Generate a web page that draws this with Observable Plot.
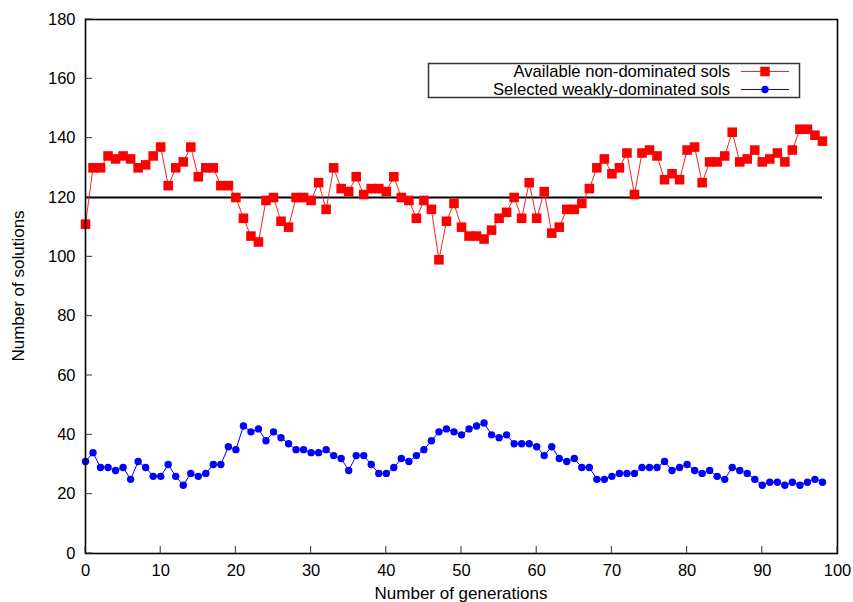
<!DOCTYPE html>
<html><head><meta charset="utf-8">
<script src="https://cdn.jsdelivr.net/npm/d3@7"></script>
<script src="https://cdn.jsdelivr.net/npm/@observablehq/plot@0.6"></script>
<style>
body{margin:0;background:#fff;}
#chart{width:853px;height:602px;overflow:hidden;}
</style>
</head><body><div id="chart"></div>
<script>
// Data
const availableNonDominated = [111,130,130,134,133,134,133,130,131,134,137,124,130,132,137,127,130,130,124,124,
  120,113,107,105,119,120,112,110,120,120,119,125,116,130,123,122,127,121,123,123,
  122,127,120,119,113,119,116,99,112,118,110,107,107,106,109,113,115,120,113,125,
  113,122,108,110,116,116,118,123,130,133,128,130,135,121,135,136,134,126,128,126,
  136,137,125,132,132,134,142,132,133,136,132,133,135,132,136,143,143,141,139];
const selectedWeaklyDominated = [31,34,29,29,28,29,25,31,29,26,26,30,26,23,27,26,27,30,30,36,
  35,43,41,42,38,41,39,37,35,35,34,34,35,33,32,28,33,33,30,27,
  27,29,32,31,33,35,38,41,42,41,40,42,43,44,40,39,40,37,37,37,
  36,33,36,32,31,32,29,29,25,25,26,27,27,27,29,29,29,31,28,29,
  30,28,27,28,26,25,29,28,27,25,23,24,24,23,24,23,24,25,24];
const referenceLevel = [120];
const xTicks = [0,10,20,30,40,50,60,70,80,90,100];
const yTicks = [0,20,40,60,80,100,120,140,160,180];
const seriesNames = ["Available non-dominated sols", "Selected weakly-dominated sols"];

const redData = availableNonDominated.map((v, i) => ({gen: i, value: v}));
const blueData = selectedWeaklyDominated.map((v, i) => ({gen: i, value: v}));
const lastGen = redData[redData.length - 1].gen;
const FONT = "'Liberation Sans', Arial, Helvetica, sans-serif";

const plot = Plot.plot({
  width: 853,
  height: 602,
  marginLeft: 85,
  marginRight: 16,
  marginTop: 19,
  marginBottom: 49,
  style: {fontFamily: FONT, fontSize: "16.5px", background: "#fff", color: "#000"},
  x: {domain: [0, 100]},
  y: {domain: [0, 180]},
  marks: [
    Plot.axisX({ticks: xTicks, tickSize: 0, tickPadding: 11, label: null}),
    Plot.axisY({ticks: yTicks, tickSize: 0, tickPadding: 10, label: null}),
    Plot.ruleY(referenceLevel, {y: d => d, x1: 0, x2: lastGen, stroke: "#000", strokeWidth: 1.8}),
    Plot.line(redData, {x: "gen", y: "value", stroke: "#ff2020", strokeWidth: 1}),
    Plot.dot(redData, {x: "gen", y: "value", symbol: "square", r: 5.4, fill: "#ff0000", stroke: "none"}),
    Plot.line(blueData, {x: "gen", y: "value", stroke: "#0000ff", strokeWidth: 1}),
    Plot.dot(blueData, {x: "gen", y: "value", r: 3.7, fill: "#0000ff", stroke: "none"}),
    Plot.frame({stroke: "#000", strokeWidth: 1.6})
  ]
});

document.getElementById("chart").appendChild(plot);

const svg = d3.select(plot);
const sx = plot.scale("x"), sy = plot.scale("y");
const [x0] = sx.range, yb = sy.range[0];

// inward ticks (gnuplot style), positioned through Plot's scales
const tg = svg.append("g").attr("stroke", "#333").attr("stroke-width", 1);
xTicks.forEach(t => { const px = sx.apply(t); tg.append("line").attr("x1", px).attr("x2", px).attr("y1", yb).attr("y2", yb - 7); });
yTicks.forEach(t => { const py = sy.apply(t); tg.append("line").attr("x1", x0).attr("x2", x0 + 7).attr("y1", py).attr("y2", py); });

// axis titles
const xMid = (sx.range[0] + sx.range[1]) / 2, yMid = (sy.range[0] + sy.range[1]) / 2;
svg.append("text").attr("x", xMid).attr("y", 599).attr("text-anchor", "middle")
  .attr("font-family", FONT).attr("font-size", 17).attr("fill", "#000").text("Number of generations");
svg.append("text").attr("transform", `translate(23.5,${yMid}) rotate(-90)`).attr("text-anchor", "middle")
  .attr("font-family", FONT).attr("font-size", 17).attr("fill", "#000").text("Number of solutions");

// Legend inside the plot (gnuplot style box)
const lg = svg.append("g").attr("font-family", FONT).attr("font-size", 16.6);
lg.append("rect").attr("x", 428.5).attr("y", 63.5).attr("width", 371).attr("height", 34)
  .attr("fill", "#fff").attr("stroke", "#333").attr("stroke-width", 1.5);
const rows = [
  {name: seriesNames[0], color: "#ff2020", fill: "#ff0000", sym: "square", cy: 71.5},
  {name: seriesNames[1], color: "#0000ff", fill: "#0000ff", sym: "circle", cy: 89.5}
];
rows.forEach(r => {
  lg.append("text").attr("x", 730).attr("y", r.cy).attr("dy", "0.35em").attr("text-anchor", "end").attr("fill", "#000").text(r.name);
  lg.append("line").attr("x1", 741).attr("x2", 789).attr("y1", r.cy).attr("y2", r.cy).attr("stroke", r.color).attr("stroke-width", 1);
  if (r.sym === "square") lg.append("rect").attr("x", 765 - 4.75).attr("y", r.cy - 4.75).attr("width", 9.5).attr("height", 9.5).attr("fill", r.fill);
  else lg.append("circle").attr("cx", 765).attr("cy", r.cy).attr("r", 3.7).attr("fill", r.fill);
});
</script>
</body></html>
